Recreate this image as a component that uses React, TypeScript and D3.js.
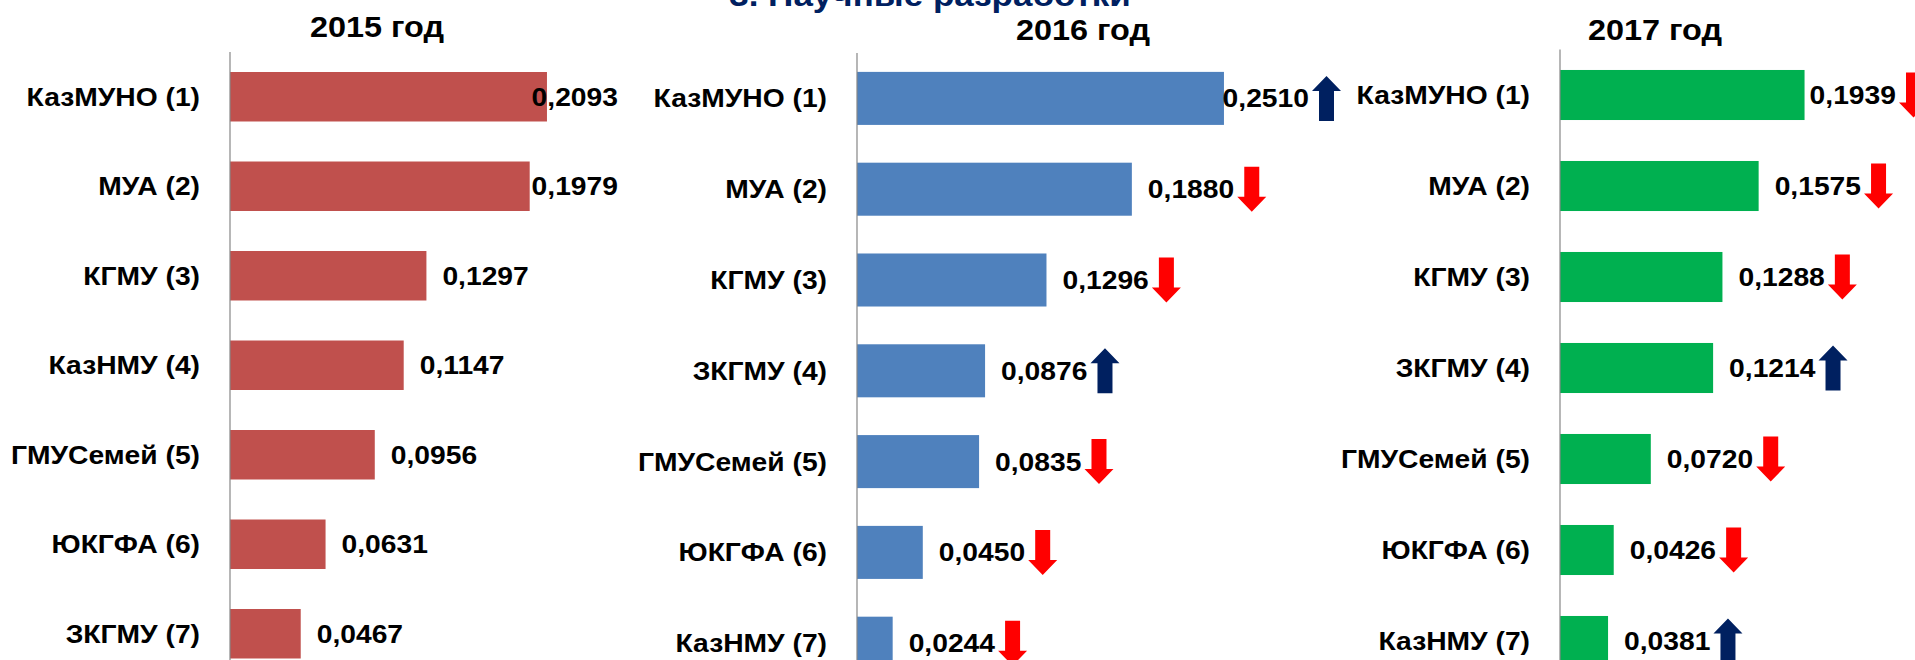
import React, { useEffect, useRef } from "react";
import * as d3 from "d3";

// Data
const years = ["2015 год", "2016 год", "2017 год"];

const names2015 = ["КазМУНО (1)", "МУА (2)", "КГМУ (3)", "КазНМУ (4)", "ГМУСемей (5)", "ЮКГФА (6)", "ЗКГМУ (7)"];
const values2015 = [0.2093, 0.1979, 0.1297, 0.1147, 0.0956, 0.0631, 0.0467];
const trend2015: string[] = ["", "", "", "", "", "", ""];

const names2016 = ["КазМУНО (1)", "МУА (2)", "КГМУ (3)", "ЗКГМУ (4)", "ГМУСемей (5)", "ЮКГФА (6)", "КазНМУ (7)"];
const values2016 = [0.251, 0.188, 0.1296, 0.0876, 0.0835, 0.045, 0.0244];
const trend2016 = ["up", "down", "down", "up", "down", "down", "down"];

const names2017 = ["КазМУНО (1)", "МУА (2)", "КГМУ (3)", "ЗКГМУ (4)", "ГМУСемей (5)", "ЮКГФА (6)", "КазНМУ (7)"];
const values2017 = [0.1939, 0.1575, 0.1288, 0.1214, 0.072, 0.0426, 0.0381];
const trend2017 = ["down", "down", "down", "up", "down", "down", "up"];

const header = "3. Научные разработки";

const W = 1915;
const H = 660;
const FONT = "'Liberation Sans', Arial, sans-serif";
const SX = 1.13; // the slide text is stretched horizontally
const FS = 25;

// layout of each small chart
const panels = [
    { names: names2015, values: values2015, trend: trend2015, color: "#C0504D", axisX: 230, plotW: 378.6, max: 0.25, yTop: 52, step: 89.5, pad: 0.447, labelLimit: 618, titleX: 377, titleY: 37 },
    { names: names2016, values: values2016, trend: trend2016, color: "#4F81BD", axisX: 857, plotW: 438.6, max: 0.3, yTop: 53, step: 90.8, pad: 0.416, labelLimit: 1309, titleX: 1083, titleY: 40 },
    { names: names2017, values: values2017, trend: trend2017, color: "#00B050", axisX: 1560, plotW: 315.3, max: 0.25, yTop: 49.5, step: 91, pad: 0.45, labelLimit: 1896, titleX: 1655, titleY: 40 },
];

const fmt = (v: number) => v.toFixed(4).replace(".", ",");

const arrowPath = (x: number, cy: number, dir: string) => {
    const w = 29, h = 45, shaft = 15, head = 15;
    const s0 = x + (w - shaft) / 2, s1 = s0 + shaft;
    const top = cy - h / 2, bot = cy + h / 2;
    if (dir === "down") {
        return `M${s0},${top}L${s1},${top}L${s1},${bot - head}L${x + w},${bot - head}L${x + w / 2},${bot}L${x},${bot - head}L${s0},${bot - head}Z`;
    }
    return `M${s0},${bot}L${s1},${bot}L${s1},${top + head}L${x + w},${top + head}L${x + w / 2},${top}L${x},${top + head}L${s0},${top + head}Z`;
};

const App: React.FC = () => {
    const svgRef = useRef<SVGSVGElement>(null);

    useEffect(() => {
        if (!svgRef.current) return;
        const svg = d3.select(svgRef.current);
        svg.selectAll("*").remove();

        svg.append("rect").attr("width", W).attr("height", H).attr("fill", "#fff");

        // slide header, mostly cut off at the top
        svg.append("text")
            .attr("transform", `translate(930,6) scale(${SX},1)`)
            .attr("text-anchor", "middle")
            .attr("font-family", FONT)
            .attr("font-weight", "bold")
            .attr("font-size", 31)
            .attr("fill", "#002060")
            .text(header);

        panels.forEach((p, pi) => {
            const x = d3.scaleLinear().domain([0, p.max]).range([p.axisX, p.axisX + p.plotW]);
            const y = d3.scaleBand<string>()
                .domain(p.names)
                .range([p.yTop, p.yTop + p.step * p.names.length])
                .paddingInner(p.pad)
                .paddingOuter(p.pad / 2);

            const g = svg.append("g");

            // title
            g.append("text")
                .attr("transform", `translate(${p.titleX},${p.titleY}) scale(1.08,1)`)
                .attr("text-anchor", "middle")
                .attr("font-family", FONT)
                .attr("font-weight", "bold")
                .attr("font-size", 30)
                .attr("fill", "#000")
                .text(years[pi]);

            // bars
            g.selectAll("rect.bar")
                .data(p.values)
                .join("rect")
                .attr("class", "bar")
                .attr("x", x(0))
                .attr("y", (_, i) => y(p.names[i])!)
                .attr("width", d => x(d) - x(0))
                .attr("height", y.bandwidth())
                .attr("fill", p.color);

            // vertical axis line
            g.append("line")
                .attr("x1", x(0))
                .attr("x2", x(0))
                .attr("y1", y.range()[0])
                .attr("y2", y.range()[1])
                .attr("stroke", "#868686")
                .attr("stroke-width", 1.2);

            // category labels
            g.selectAll("text.cat")
                .data(p.names)
                .join("text")
                .attr("class", "cat")
                .attr("transform", d => `translate(${x(0) - 30},${y(d)! + y.bandwidth() / 2 + 9}) scale(${SX},1)`)
                .attr("text-anchor", "end")
                .attr("font-family", FONT)
                .attr("font-weight", "bold")
                .attr("font-size", FS)
                .attr("fill", "#000")
                .text(d => d);

            // value labels + trend arrows
            p.values.forEach((v, i) => {
                const cy = y(p.names[i])! + y.bandwidth() / 2;
                const t = g.append("text")
                    .attr("font-family", FONT)
                    .attr("font-weight", "bold")
                    .attr("font-size", FS)
                    .attr("fill", "#000")
                    .text(fmt(v));
                const tw = (t.node() as SVGTextElement).getComputedTextLength() * SX;
                const tx = Math.min(x(v) + 16, p.labelLimit - tw);
                t.attr("transform", `translate(${tx},${cy + 9}) scale(${SX},1)`);

                const dir = p.trend[i];
                if (dir) {
                    g.append("path")
                        .attr("d", arrowPath(tx + tw + 3, cy, dir))
                        .attr("fill", dir === "down" ? "#FF0000" : "#002060");
                }
            });
        });
    }, []);

    return (
        <svg
            ref={svgRef}
            width={W}
            height={H}
            style={{ position: "absolute", left: 0, top: 0, display: "block" }}
        ></svg>
    );
};

export default App;
